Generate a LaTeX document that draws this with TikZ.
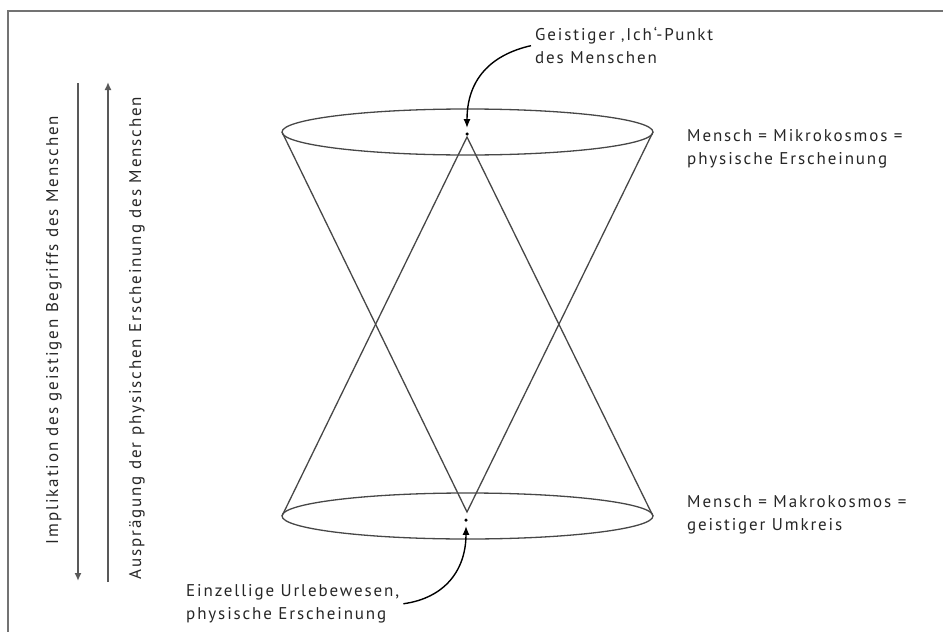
\documentclass[tikz,border=0pt]{standalone}
\usepackage{fontspec}
\setmainfont[LetterSpace=11]{PT Sans}
\usepackage{tikz}
\usetikzlibrary{arrows.meta, calc, positioning}

\begin{document}
\begin{tikzpicture}[
  x=1pt, y=-1pt,
  label_txt/.style={align=left, font=\fontsize{17}{23.5}\selectfont, text=black!85, inner sep=4pt},
  side_txt/.style={rotate=90, anchor=base, font=\fontsize{17}{23.5}\selectfont, text=black!85, inner sep=0pt},
  cone/.style={draw=black!72, line width=1.3pt},
  pointer/.style={-{Latex[length=9pt, width=7pt]}, line width=1.4pt},
  axis_arrow/.style={-{Latex[length=8pt, width=7pt]}, draw=black!65, line width=2pt},
  dot/.style={circle, fill=black, inner sep=0pt, minimum size=3.5pt},
]
\useasboundingbox (0,0) rectangle (943,632);

% Frame
\draw[black!55, line width=1.2pt] (943,11) -- (8,11) -- (8,632);

% Ellipses
\draw[cone] (467.5,132) ellipse [x radius=185.5, y radius=23];
\draw[cone] (467.5,516) ellipse [x radius=185.5, y radius=23];

% Cone points
\coordinate (top_l) at (282,132);
\coordinate (top_r) at (653,132);
\coordinate (bot_l) at (282,516);
\coordinate (bot_r) at (653,516);
\coordinate (top_apex) at (467,137);
\coordinate (bot_apex) at (467,512);

% Cones
\draw[cone] (top_l) -- (bot_apex) -- (top_r);
\draw[cone] (bot_l) -- (top_apex) -- (bot_r);

% Dots
\node[dot] (ich_dot) at (467,134) {};
\node[dot] (zell_dot) at (466,520) {};

% Labels
\node[label_txt, anchor=north west] (ich_txt) at (531,23) {Geistiger ‚Ich‘-Punkt\\des Menschen};
\node[label_txt, anchor=north west] (mikro_txt) at (683,125) {Mensch = Mikrokosmos =\\physische Erscheinung};
\node[label_txt, anchor=north west] (makro_txt) at (683,491) {Mensch = Makrokosmos =\\geistiger Umkreis};
\node[label_txt, anchor=north west] (zell_txt) at (182,580) {Einzellige Urlebewesen,\\physische Erscheinung};

% Pointers
\draw[pointer, shorten >=4pt] (ich_txt.west) .. controls (490,55) and (467,80) .. (ich_dot);
\draw[pointer, shorten >=4pt] (zell_txt.east) .. controls (445,598) and (466,570) .. (zell_dot);

% Side arrows
\coordinate (impl_top) at (78,83);
\coordinate (impl_bot) at (78,581);
\coordinate (ausp_bot) at (108,582);
\coordinate (ausp_top) at (108,82);
\draw[axis_arrow] (impl_top) -- (impl_bot);
\draw[axis_arrow] (ausp_bot) -- (ausp_top);

\node[side_txt] (impl_txt) at (58,330) {Implikation des geistigen Begriffs des Menschen};
\node[side_txt] (ausp_txt) at (141,338) {Ausprägung der physischen Erscheinung des Menschen};
\end{tikzpicture}
\end{document}
